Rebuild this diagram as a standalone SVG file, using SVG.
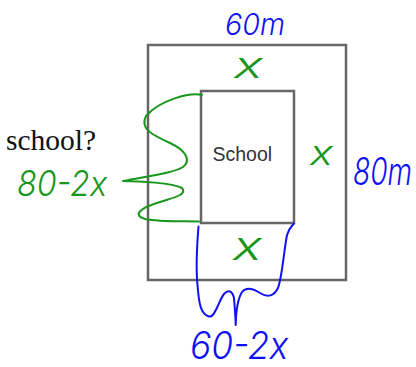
<svg xmlns="http://www.w3.org/2000/svg" width="416" height="367" viewBox="0 0 416 367">
<style>
.box{fill:none;stroke:#666;stroke-width:2.5}
.hand{font-family:"Inter","Open Sans","DejaVu Sans",sans-serif;font-style:italic;font-weight:300}
.g{fill:#17961c}
.b{fill:#1010f5}
.brace{fill:none;stroke-width:2;stroke-linecap:round;stroke-linejoin:round}
</style>
<rect width="416" height="367" fill="#fff"/>
<g id="plot"><rect class="box" x="148" y="45" width="198" height="235"/></g>
<g id="school"><rect class="box" x="201" y="91" width="93" height="132"/>
<text x="212.5" y="160.5" font-family="Liberation Sans, Arial, sans-serif" font-size="19.5" fill="#333">School</text></g>
<g id="question"><text x="6" y="150" font-family="'Liberation Serif','Times New Roman',serif" font-size="29.5" fill="#111">school?</text></g>
<g id="connectors">
<path class="brace" stroke="#17961c" d="M202,95 C190,92 160,100 146,116 C140,128 150,134 170,143 C185,150 192,160 183,167 C175,172 160,174 123,181 C140,181 172,183 182,188 C188,195 172,198 160,202 C140,208 132,215 145,219 C160,222 180,221 199,221.5"/>
<path class="brace" stroke="#1010f5" d="M198.5,226.5 C197,245 196,270 197.5,285 C199,305 201,314 209,316.5 C215,318 219,300 224,294 C228,290 232,290 234,298 C235,310 235.5,318 235.7,325 C236,312 237,300 242,292 C246,287 252,288 260,293 C268,298 274,296 278,288 C282,278 284,250 287,235 C289,228 292,226 294,223.5"/>
</g>
<g id="label-60m"><text class="hand b" x="225" y="35" font-size="30" textLength="60" lengthAdjust="spacingAndGlyphs">60m</text></g>
<g id="label-x-top"><text class="hand g" x="234" y="78" font-size="36" textLength="29" lengthAdjust="spacingAndGlyphs">x</text></g>
<g id="label-x-right"><text class="hand g" x="310" y="165" font-size="34" textLength="23" lengthAdjust="spacingAndGlyphs">x</text></g>
<g id="label-80m"><text class="hand b" transform="translate(353,185) scale(0.74,1)" font-size="38">80m</text></g>
<g id="label-80-2x"><text class="hand g" x="17" y="196" font-size="35" textLength="90" lengthAdjust="spacingAndGlyphs">80-2x</text></g>
<g id="label-x-bottom"><text class="hand g" x="233" y="260" font-size="40" textLength="29" lengthAdjust="spacingAndGlyphs">x</text></g>
<g id="label-60-2x"><text class="hand b" transform="translate(190,359) scale(0.93,1)" font-size="38">60-2x</text></g>
</svg>
